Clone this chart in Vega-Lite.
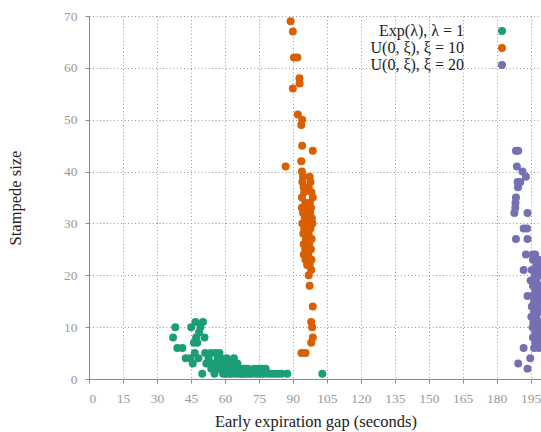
{
  "$schema": "https://vega.github.io/schema/vega-lite/v6.json",
  "autosize": {"type": "none"},
  "padding": {"left": 89, "top": 16, "right": 0, "bottom": 53},
  "width": 453,
  "height": 363,
  "background": "white",
  "config": {
    "view": {"stroke": null},
    "font": "Liberation Serif"
  },
  "datasets": {
    "pts": [
      {"d":"exp","x":37.1,"y":8},{"d":"exp","x":38.1,"y":10},{"d":"exp","x":39,"y":6},{"d":"exp","x":41.2,"y":6},{"d":"exp","x":42.7,"y":4},{"d":"exp","x":44.7,"y":4},{"d":"exp","x":45.1,"y":10},{"d":"exp","x":45.8,"y":3},{"d":"exp","x":46.3,"y":7},{"d":"exp","x":46.7,"y":5},{"d":"exp","x":47,"y":11},{"d":"exp","x":47.3,"y":8},{"d":"exp","x":47.8,"y":7},{"d":"exp","x":48.3,"y":4},{"d":"exp","x":48.6,"y":9},{"d":"exp","x":49.2,"y":10},{"d":"exp","x":50.3,"y":11},{"d":"exp","x":50,"y":1},{"d":"exp","x":51,"y":8},{"d":"exp","x":51.3,"y":5},{"d":"exp","x":51.8,"y":3},{"d":"exp","x":52.8,"y":4},{"d":"exp","x":53.3,"y":3},{"d":"exp","x":53.8,"y":5},{"d":"exp","x":54,"y":2},{"d":"exp","x":54.5,"y":3},{"d":"exp","x":55.4,"y":1},{"d":"exp","x":55.8,"y":5},{"d":"exp","x":56.3,"y":3},{"d":"exp","x":56.8,"y":4},{"d":"exp","x":57.2,"y":2},{"d":"exp","x":57.6,"y":5},{"d":"exp","x":58,"y":3},{"d":"exp","x":58.3,"y":4},{"d":"exp","x":58.8,"y":2},{"d":"exp","x":59.2,"y":1},{"d":"exp","x":59.6,"y":3},{"d":"exp","x":60,"y":2},{"d":"exp","x":60.4,"y":1},{"d":"exp","x":60.8,"y":4},{"d":"exp","x":61.2,"y":2},{"d":"exp","x":61.6,"y":3},{"d":"exp","x":62,"y":1},{"d":"exp","x":62.5,"y":2},{"d":"exp","x":63,"y":1},{"d":"exp","x":63.5,"y":3},{"d":"exp","x":64,"y":4},{"d":"exp","x":64.5,"y":2},{"d":"exp","x":65,"y":1},{"d":"exp","x":65.5,"y":3},{"d":"exp","x":66,"y":2},{"d":"exp","x":66.5,"y":1},{"d":"exp","x":67,"y":2},{"d":"exp","x":67.5,"y":1},{"d":"exp","x":68,"y":2},{"d":"exp","x":68.5,"y":1},{"d":"exp","x":69,"y":2},{"d":"exp","x":69.5,"y":1},{"d":"exp","x":70.2,"y":2},{"d":"exp","x":71,"y":1},{"d":"exp","x":72,"y":1},{"d":"exp","x":73,"y":2},{"d":"exp","x":74,"y":1},{"d":"exp","x":74.8,"y":2},{"d":"exp","x":75.5,"y":1},{"d":"exp","x":76.2,"y":2},{"d":"exp","x":77,"y":1},{"d":"exp","x":78,"y":2},{"d":"exp","x":79,"y":1},{"d":"exp","x":80.5,"y":1},{"d":"exp","x":82,"y":1},{"d":"exp","x":83.5,"y":1},{"d":"exp","x":85,"y":1},{"d":"exp","x":87.5,"y":1},{"d":"exp","x":103,"y":1},
      {"d":"u10","x":89,"y":69},{"d":"u10","x":90,"y":67},{"d":"u10","x":90.5,"y":62},{"d":"u10","x":92,"y":62},{"d":"u10","x":92.9,"y":58},{"d":"u10","x":93,"y":57},{"d":"u10","x":90,"y":56},{"d":"u10","x":92.2,"y":51},{"d":"u10","x":94.1,"y":50},{"d":"u10","x":93.7,"y":49},{"d":"u10","x":94.1,"y":45},{"d":"u10","x":98.8,"y":44},{"d":"u10","x":86.8,"y":41},{"d":"u10","x":93.7,"y":42},{"d":"u10","x":94,"y":40},{"d":"u10","x":94.5,"y":39},{"d":"u10","x":97.4,"y":39},{"d":"u10","x":94.2,"y":38},{"d":"u10","x":97.8,"y":38},{"d":"u10","x":94.8,"y":37},{"d":"u10","x":97,"y":37},{"d":"u10","x":95,"y":36},{"d":"u10","x":98.2,"y":36},{"d":"u10","x":94,"y":35},{"d":"u10","x":98.8,"y":35},{"d":"u10","x":95.5,"y":34},{"d":"u10","x":97.5,"y":34},{"d":"u10","x":94,"y":33},{"d":"u10","x":96,"y":33},{"d":"u10","x":98,"y":33},{"d":"u10","x":94.5,"y":32},{"d":"u10","x":97.6,"y":32},{"d":"u10","x":95.3,"y":31},{"d":"u10","x":98.4,"y":31},{"d":"u10","x":94.2,"y":30},{"d":"u10","x":96.5,"y":30},{"d":"u10","x":98.6,"y":30},{"d":"u10","x":95,"y":29},{"d":"u10","x":97.8,"y":29},{"d":"u10","x":94.6,"y":28},{"d":"u10","x":97,"y":28},{"d":"u10","x":95.8,"y":27},{"d":"u10","x":98.3,"y":27},{"d":"u10","x":94.8,"y":26},{"d":"u10","x":97.2,"y":26},{"d":"u10","x":95.5,"y":25},{"d":"u10","x":98,"y":25},{"d":"u10","x":94.8,"y":24},{"d":"u10","x":96.8,"y":24},{"d":"u10","x":95.6,"y":23},{"d":"u10","x":98.2,"y":23},{"d":"u10","x":96.3,"y":22},{"d":"u10","x":97.4,"y":22},{"d":"u10","x":98.1,"y":21},{"d":"u10","x":97,"y":20},{"d":"u10","x":97.4,"y":18},{"d":"u10","x":98.8,"y":14},{"d":"u10","x":98.1,"y":11},{"d":"u10","x":98.5,"y":10},{"d":"u10","x":98.8,"y":8},{"d":"u10","x":98.1,"y":7},{"d":"u10","x":93.8,"y":5},{"d":"u10","x":95.6,"y":5},
      {"d":"u20","x":188.5,"y":44},{"d":"u20","x":189.5,"y":44},{"d":"u20","x":188.9,"y":41},{"d":"u20","x":191.4,"y":40},{"d":"u20","x":192.9,"y":39},{"d":"u20","x":190.4,"y":38},{"d":"u20","x":189.2,"y":38},{"d":"u20","x":189.4,"y":37},{"d":"u20","x":188.5,"y":35},{"d":"u20","x":188.3,"y":34},{"d":"u20","x":188.2,"y":33},{"d":"u20","x":187.8,"y":32},{"d":"u20","x":193.6,"y":32},{"d":"u20","x":191.9,"y":29},{"d":"u20","x":193.4,"y":29},{"d":"u20","x":188.5,"y":27},{"d":"u20","x":193.6,"y":27},{"d":"u20","x":192.9,"y":24},{"d":"u20","x":195.9,"y":24},{"d":"u20","x":191.9,"y":21},{"d":"u20","x":197,"y":24},{"d":"u20","x":198.5,"y":23},{"d":"u20","x":196,"y":23},{"d":"u20","x":197.5,"y":22},{"d":"u20","x":199,"y":22},{"d":"u20","x":195.5,"y":21},{"d":"u20","x":198,"y":21},{"d":"u20","x":196.8,"y":20},{"d":"u20","x":199,"y":20},{"d":"u20","x":195,"y":19},{"d":"u20","x":197.5,"y":19},{"d":"u20","x":196,"y":18},{"d":"u20","x":198.8,"y":18},{"d":"u20","x":193.6,"y":16},{"d":"u20","x":197,"y":17},{"d":"u20","x":199,"y":17},{"d":"u20","x":195.8,"y":16},{"d":"u20","x":198.3,"y":16},{"d":"u20","x":196.5,"y":15},{"d":"u20","x":199,"y":15},{"d":"u20","x":195.5,"y":14},{"d":"u20","x":197.8,"y":14},{"d":"u20","x":196.5,"y":13},{"d":"u20","x":199,"y":13},{"d":"u20","x":195.3,"y":12},{"d":"u20","x":197.5,"y":12},{"d":"u20","x":196.2,"y":11},{"d":"u20","x":198.8,"y":11},{"d":"u20","x":195.8,"y":10},{"d":"u20","x":198,"y":10},{"d":"u20","x":197,"y":9},{"d":"u20","x":199,"y":9},{"d":"u20","x":196,"y":8},{"d":"u20","x":198.3,"y":8},{"d":"u20","x":197,"y":7},{"d":"u20","x":199,"y":7},{"d":"u20","x":196.5,"y":6},{"d":"u20","x":198.6,"y":6},{"d":"u20","x":191.9,"y":6},{"d":"u20","x":194.8,"y":4},{"d":"u20","x":189.5,"y":3},{"d":"u20","x":193.6,"y":2}
    ]
  },
  "data": {"name": "pts"},
  "mark": {"type": "circle", "size": 64, "opacity": 1},
  "encoding": {
    "x": {
      "field": "x", "type": "quantitative",
      "scale": {"domain": [0, 200], "nice": false, "zero": true},
      "axis": {
        "title": "Early expiration gap (seconds)",
        "values": [0,15,30,45,60,75,90,105,120,135,150,165,180,195],
        "grid": true, "gridDash": [1,2.5], "gridColor": "#999", "gridOpacity": 1,
        "domainColor": "#888", "tickColor": "#888", "tickSize": 4,
        "labelColor": "#999", "labelFontSize": 13.5, "labelPadding": 8, "labelFont": "Liberation Serif",
        "titleColor": "#222", "titleFontSize": 16.5, "titleFontWeight": "normal", "titlePadding": 9, "titleFont": "Liberation Serif"
      }
    },
    "y": {
      "field": "y", "type": "quantitative",
      "scale": {"domain": [0, 70], "nice": false},
      "axis": {
        "title": "Stampede size",
        "values": [0,10,20,30,40,50,60,70],
        "grid": true, "gridDash": [1,2.5], "gridColor": "#999", "gridOpacity": 1,
        "domainColor": "#888", "tickColor": "#888", "tickSize": 4,
        "labelColor": "#999", "labelFontSize": 13.5, "labelPadding": 8, "labelFont": "Liberation Serif",
        "titleColor": "#222", "titleFontSize": 16.5, "titleFontWeight": "normal", "titlePadding": 40, "titleFont": "Liberation Serif"
      }
    },
    "color": {
      "field": "d", "type": "nominal",
      "scale": {"domain": ["exp", "u10", "u20"], "range": ["#1b9e77", "#d95f02", "#7570b3"]},
      "legend": {
        "title": null,
        "orient": "none", "legendX": 405, "legendY": 7,
        "padding": 0, "rowPadding": 1,
        "symbolType": "circle", "symbolSize": 64, "symbolOpacity": 1,
        "labelAlign": "right", "labelOffset": -46,
        "labelFont": "Liberation Serif", "labelFontSize": 16, "labelColor": "#222",
        "labelExpr": "datum.label == 'exp' ? 'Exp(λ), λ = 1' : (datum.label == 'u10' ? 'U(0, ξ), ξ = 10' : 'U(0, ξ), ξ = 20')"
      }
    }
  }
}
